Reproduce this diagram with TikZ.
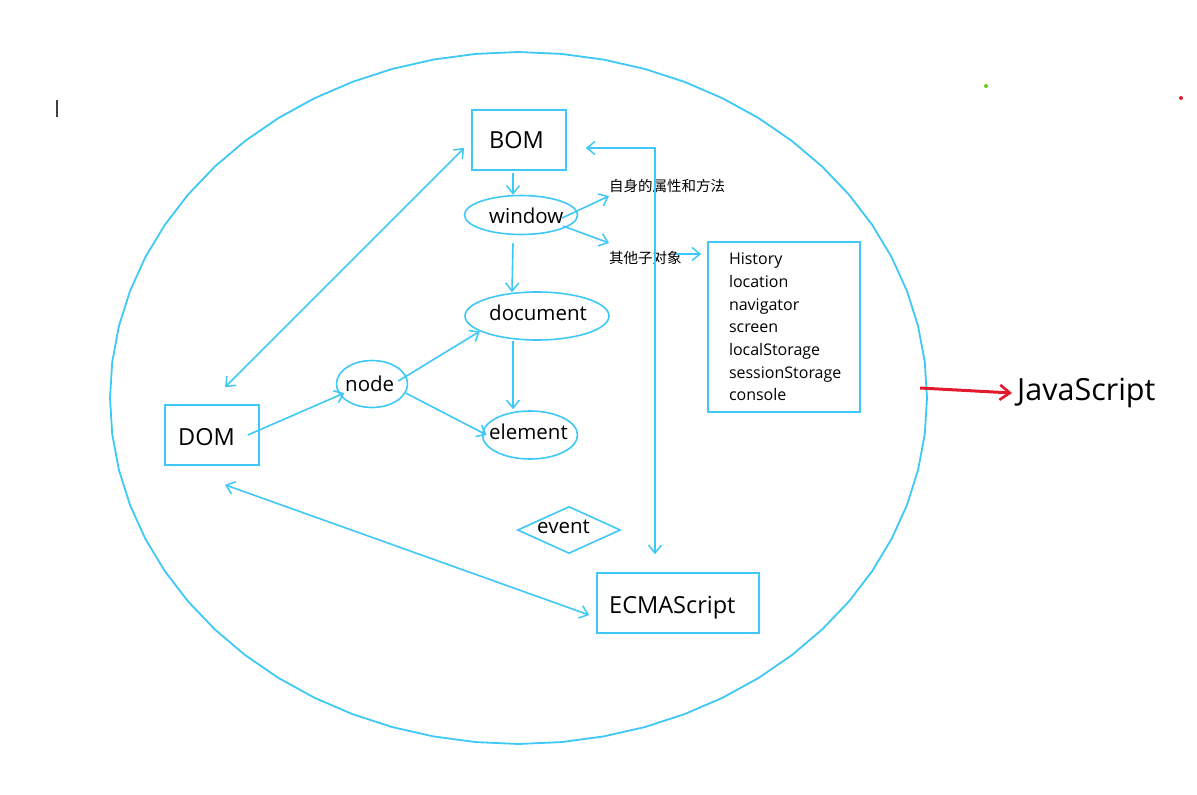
\documentclass[tikz,border=0pt]{standalone}
\usepackage{fontspec}
\setmainfont{Open Sans}
\newfontfamily\cjk{Noto Sans CJK SC}
\usetikzlibrary{shapes.geometric,arrows.meta,calc}
\definecolor{sky}{HTML}{3DC8F5}
\definecolor{jsred}{HTML}{E3192C}
\definecolor{dotgreen}{HTML}{66CC11}
\tikzset{
  ln/.style={draw=sky,line width=1.6pt},
  arr/.style={ln,-{Straight Barb[length=8pt,width=13pt,line width=1.5pt]}},
  darr/.style={ln,{Straight Barb[length=8pt,width=13pt,line width=1.5pt]}-{Straight Barb[length=8pt,width=13pt,line width=1.5pt]}},
  boxn/.style={ln,rectangle,inner sep=0pt},
  elln/.style={ln,ellipse,inner sep=0pt},
  diam/.style={ln,diamond,inner sep=0pt},
  txt/.style={inner sep=0pt,anchor=base west},
  big/.style={txt,font=\fontsize{23.5}{28}\selectfont},
  mid/.style={txt,font=\fontsize{20.5}{24}\selectfont},
  cn/.style={inner sep=0pt,anchor=west,font=\cjk\fontsize{14.5}{17}\selectfont},
}
\begin{document}
\begin{tikzpicture}[x=1pt,y=-1pt]
\useasboundingbox (0,0) rectangle (1197,795);
% outer ellipse (polygonal)
\draw[ln,line width=1.8pt] plot[domain=0:360,samples=61] ({518.5+408.5*cos(\x)},{398+346*sin(\x)}) -- cycle;

% shapes
\node[boxn,minimum width=94pt,minimum height=60pt] (BOM) at (519,140) {};
\node[big] (BOMt) at (489,148) {BOM};
\node[elln,minimum width=113pt,minimum height=39pt] (window) at (521,215) {};
\node[mid] (windowt) at (489,223) {window};
\node[elln,minimum width=144pt,minimum height=48pt] (document) at (537,316) {};
\node[mid] (documentt) at (489,320) {document};
\node[elln,minimum width=71pt,minimum height=47pt] (node) at (372,384) {};
\node[mid] (nodet) at (345,391) {node};
\node[elln,minimum width=95pt,minimum height=48pt] (element) at (530,435) {};
\node[mid] (elementt) at (489,439) {element};
\node[boxn,minimum width=94pt,minimum height=60pt] (DOM) at (212,435) {};
\node[big] (DOMt) at (178,445) {DOM};
\node[diam,minimum width=103pt,minimum height=47pt] (event) at (569,530) {};
\node[mid] (eventt) at (537,533) {event};
\node[boxn,minimum width=162pt,minimum height=60pt] (ECMA) at (678,603) {};
\node[big] (ECMAt) at (609,613) {ECMAScript};
\node[ln,rectangle,minimum height=170pt,text width=110pt,inner xsep=21pt,inner ysep=0pt,align=left,
      font=\fontsize{16}{22.7}\selectfont] (list) at (784,327)
  {History\\location\\navigator\\screen\\localStorage\\sessionStorage\\console};
\node[cn] (self) at (609,186) {自身的属性和方法};
\node[cn] (other) at (609,258) {其他子对象};
\node[txt,font=\fontsize{30.5}{36}\selectfont] (JS) at (1017,400) {JavaScript};

% connectors
\draw[arr] ([xshift=-6pt,yshift=-2pt]BOM.south) -- ([xshift=-8pt]window.north);
\draw[arr] ([xshift=-8pt,yshift=-8pt]window.south) -- ([xshift=-25pt,yshift=-1pt]document.north);
\draw[arr] ([xshift=-24pt]document.south) -- ([xshift=-17pt,yshift=1pt]element.north);
\draw[arr] ([xshift=-10pt,yshift=3pt]node.east) -- (document.195);
\draw[arr] (node.-15) -- ([xshift=5pt]element.west);
\draw[arr] ([xshift=-12pt]DOM.east) -- ([xshift=6pt]node.195);
\draw[arr] ([xshift=41pt,yshift=-3pt]window.center) -- ([yshift=-10pt]self.west);
\draw[arr] ([xshift=42pt,yshift=-11pt]window.center) -- ([yshift=15pt]other.west);
\coordinate (o1) at ([xshift=-6pt,yshift=4pt]other.east);
\draw[arr,shorten >=6pt] (o1) -- (o1 -| list.west);
\draw[darr] ([xshift=13pt,yshift=17pt]DOM.north) -- ([xshift=-7pt,yshift=-8pt]BOM.west);
\draw[darr] ([xshift=13pt,yshift=-19pt]DOM.south) -- ([xshift=-7pt,yshift=-12pt]ECMA.west);
\draw[darr] ([xshift=19pt,yshift=-8pt]BOM.east) -| ([xshift=-23pt,yshift=18pt]ECMA.north);
\coordinate (jsstart) at (920,388);
\draw[draw=jsred,line width=3pt,-{Straight Barb[length=10pt,width=15pt,line width=2.6pt]}] (jsstart) -- ([xshift=-5pt,yshift=7pt]JS.base west);

% stray marks
\draw[line width=1.2pt,draw=black!75] (57,100) -- (57,117);
\fill[dotgreen] (986,86) circle (2pt);
\fill[jsred] (1181,98) circle (2pt);
\end{tikzpicture}
\end{document}
